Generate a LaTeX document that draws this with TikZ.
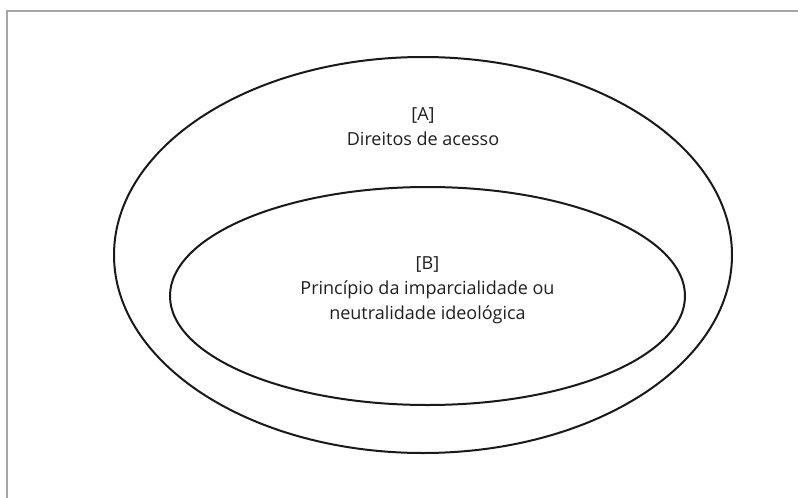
\documentclass[tikz,border=0pt]{standalone}
\usepackage{fontspec}
\setmainfont{Open Sans}
\usetikzlibrary{shapes.geometric}
\tikzset{
  ring/.style={draw=black!90, line width=2pt, ellipse, inner sep=0pt},
  lbl/.style={align=center, font=\fontsize{18}{25}\selectfont, text=black!88, inner sep=0pt}
}
\begin{document}
\begin{tikzpicture}[x=1pt,y=-1pt]
\useasboundingbox (0,0) rectangle (798,498);
\draw[black!35, line width=1.5pt] (7,11) rectangle (820,520);
\node[ring, minimum width=618pt, minimum height=396pt] (outer) at (423,255) {};
\node[ring, minimum width=515pt, minimum height=218pt] (inner) at (427.5,296) {};
\node[lbl] (ta) at (423,127) {[A]\\Direitos de acesso};
\node[lbl] (tb) at (427.5,290) {[B]\\Princípio da imparcialidade ou\\neutralidade ideológica};
\end{tikzpicture}
\end{document}
